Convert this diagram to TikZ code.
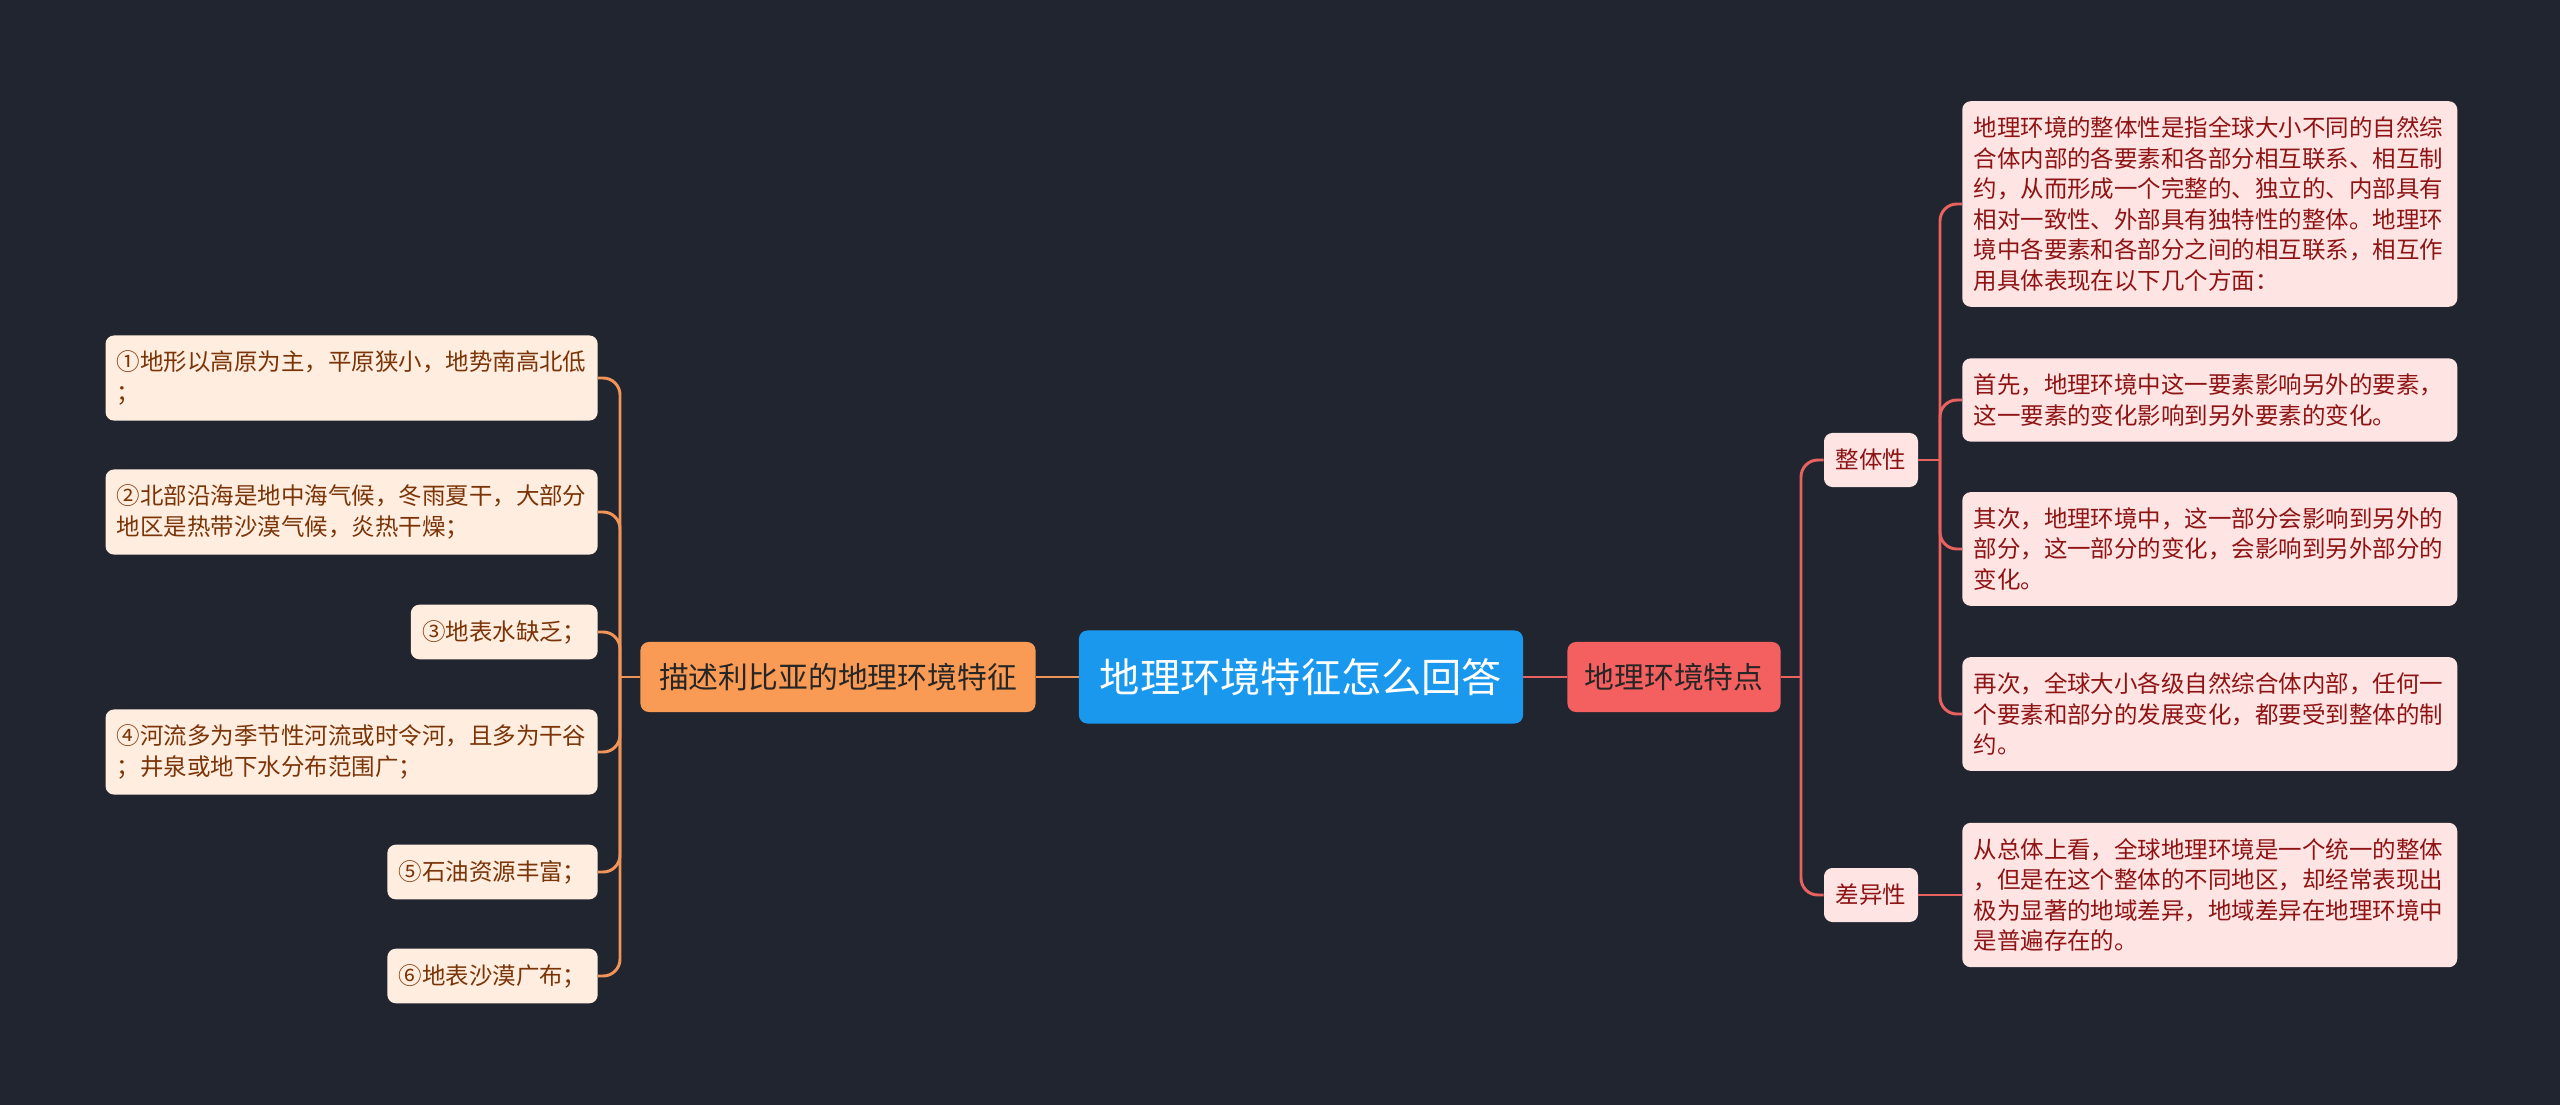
\documentclass[tikz,border=0pt]{standalone}
\usepackage{fontspec}
\setmainfont{Noto Sans CJK SC}
\definecolor{bgdark}{HTML}{212530}
\definecolor{rootblue}{HTML}{1A98EE}
\definecolor{descorange}{HTML}{F99A55}
\definecolor{featred}{HTML}{F45F5F}
\definecolor{leafpeach}{HTML}{FFEEDF}
\definecolor{leafbrown}{HTML}{7A3408}
\definecolor{leafpink}{HTML}{FFE4E4}
\definecolor{leafred}{HTML}{8E1414}
\definecolor{lineorange}{HTML}{F0945A}
\definecolor{linered}{HTML}{E8625F}

\begin{document}
\begin{tikzpicture}[x=0.025cm,y=-0.025cm,
    box/.style={rounded corners=6pt,inner sep=0pt},
    leaf/.style={box,font=\fontsize{16.7}{21.7}\selectfont,align=left,inner xsep=8pt,inner ysep=11pt},
    leftleaf/.style={leaf,fill=leafpeach,text=leafbrown,anchor=east},
    rightleaf/.style={leaf,fill=leafpink,text=leafred,anchor=west,text width=336pt},
    oline/.style={draw=lineorange,line width=2.1pt},
    rline/.style={draw=linered,line width=2.1pt}]
    \fill[bgdark] (0,0) rectangle (2560,1105);
    \useasboundingbox (0,0) rectangle (2560,1105);

    \node[box,fill=rootblue,text=white,font=\fontsize{28.6}{30}\selectfont,
      minimum width=11.1cm,minimum height=2.325cm] (root) at (1301,677) {地理环境特征怎么回答};
    \node[box,fill=descorange,text=black!85,font=\fontsize{21.2}{24}\selectfont,
      minimum width=9.875cm,minimum height=1.75cm] (desc) at (838,677) {描述利比亚的地理环境特征};
    \node[box,fill=featred,text=black!85,font=\fontsize{21.2}{24}\selectfont,
      minimum width=5.325cm,minimum height=1.75cm] (feat) at (1674,677) {地理环境特点};

    \node[leftleaf] (l1) at (598,378) {①地形以高原为主，平原狭小，地势南高北低\\；};
    \node[leftleaf] (l2) at (598,512) {②北部沿海是地中海气候，冬雨夏干，大部分\\地区是热带沙漠气候，炎热干燥；};
    \node[leftleaf] (l3) at (598,632) {③地表水缺乏；};
    \node[leftleaf] (l4) at (598,752) {④河流多为季节性河流或时令河，且多为干谷\\；井泉或地下水分布范围广；};
    \node[leftleaf] (l5) at (598,872) {⑤石油资源丰富；};
    \node[leftleaf] (l6) at (598,976) {⑥地表沙漠广布；};

    \node[box,fill=leafpink,text=leafred,font=\fontsize{16.7}{20}\selectfont,
      minimum width=2.35cm,minimum height=1.35cm] (whole) at (1871,460) {整体性};
    \node[box,fill=leafpink,text=leafred,font=\fontsize{16.7}{20}\selectfont,
      minimum width=2.35cm,minimum height=1.35cm] (diff) at (1871,895) {差异性};

    \node[rightleaf] (ra) at (1962,204) {地理环境的整体性是指全球大小不同的自然综\\合体内部的各要素和各部分相互联系、相互制\\约，从而形成一个完整的、独立的、内部具有\\相对一致性、外部具有独特性的整体。地理环\\境中各要素和各部分之间的相互联系，相互作\\用具体表现在以下几个方面：};
    \node[rightleaf] (rb) at (1962,400) {首先，地理环境中这一要素影响另外的要素，\\这一要素的变化影响到另外要素的变化。};
    \node[rightleaf] (rc) at (1962,549) {其次，地理环境中，这一部分会影响到另外的\\部分，这一部分的变化，会影响到另外部分的\\变化。};
    \node[rightleaf] (rd) at (1962,714) {再次，全球大小各级自然综合体内部，任何一\\个要素和部分的发展变化，都要受到整体的制\\约。};
    \node[rightleaf] (re) at (1962,895) {从总体上看，全球地理环境是一个统一的整体\\，但是在这个整体的不同地区，却经常表现出\\极为显著的地域差异，地域差异在地理环境中\\是普遍存在的。};

    \coordinate (ltrunk) at (620,677);
    \coordinate (rtrunk) at (1801,677);
    \coordinate (wtrunk) at (1940,460);

    \draw[oline] (root.west) -- (desc.east);
    \draw[rline] (root.east) -- (feat.west);
    \draw[oline] (desc.west) -- (ltrunk);
    \foreach \n in {l1,l2,l3,l4,l5,l6}
      \draw[oline,rounded corners=12] (ltrunk) |- (\n.east);
    \draw[rline] (feat.east) -- (rtrunk);
    \foreach \n in {whole,diff}
      \draw[rline,rounded corners=12] (rtrunk) |- (\n.west);
    \draw[rline] (whole.east) -- (wtrunk);
    \foreach \n in {ra,rb,rc,rd}
      \draw[rline,rounded corners=12] (wtrunk) |- (\n.west);
    \draw[rline] (diff.east) -- (re.west);
  \end{tikzpicture}
\end{document}
